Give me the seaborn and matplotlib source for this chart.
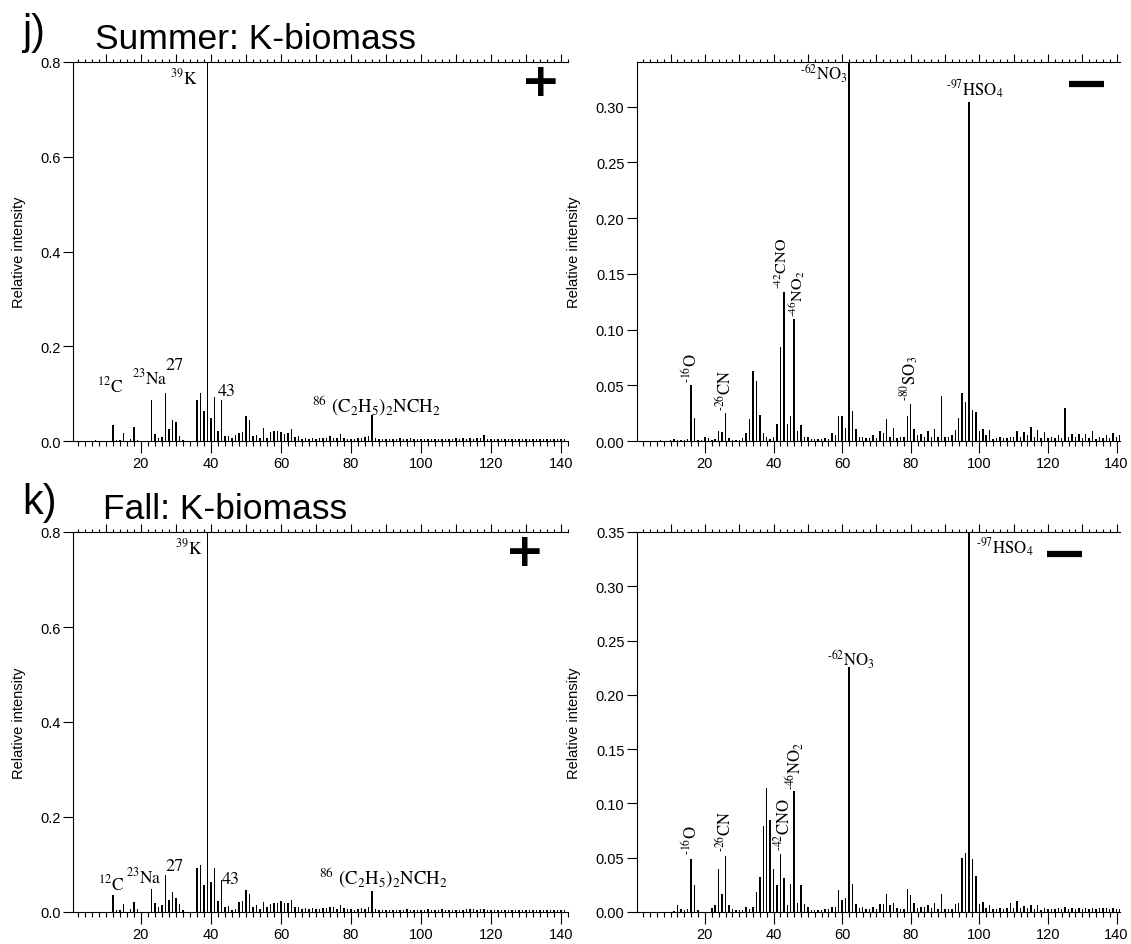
import matplotlib
matplotlib.use("Agg")
import matplotlib.pyplot as plt
import seaborn as sns
import pandas as pd
from matplotlib.ticker import MultipleLocator, FixedLocator, FormatStrFormatter, NullFormatter

# ---------------- data (m/z 1..141) ----------------
MZ = list(range(1, 142))

POS_SUMMER = [
    0, 0, 0, 0, 0, 0, 0.002, 0, 0, 0,
    0, 0.034, 0.003, 0.003, 0.017, 0.001, 0.005, 0.029, 0.003, 0,
    0, 0, 0.086, 0.014, 0.006, 0.009, 0.102, 0.025, 0.045, 0.040,
    0.010, 0.002, 0, 0, 0, 0.086, 0.102, 0.063, 0.85, 0.048,
    0.093, 0.022, 0.086, 0.010, 0.010, 0.006, 0.013, 0.017, 0.018, 0.052,
    0.045, 0.011, 0.012, 0.006, 0.027, 0.007, 0.020, 0.022, 0.022, 0.020,
    0.015, 0.017, 0.025, 0.008, 0.011, 0.005, 0.007, 0.004, 0.007, 0.004,
    0.007, 0.006, 0.007, 0.011, 0.006, 0.007, 0.014, 0.006, 0.005, 0.005,
    0.004, 0.006, 0.006, 0.008, 0.010, 0.055, 0.007, 0.005, 0.004, 0.005,
    0.004, 0.005, 0.004, 0.006, 0.004, 0.005, 0.006, 0.005, 0.004, 0.005,
    0.004, 0.005, 0.004, 0.005, 0.004, 0.005, 0.004, 0.005, 0.004, 0.006,
    0.005, 0.007, 0.005, 0.006, 0.005, 0.007, 0.006, 0.012, 0.005, 0.004,
    0.005, 0.004, 0.005, 0.004, 0.004, 0.005, 0.004, 0.004, 0.005, 0.004,
    0.004, 0.004, 0.005, 0.004, 0.004, 0.004, 0.004, 0.005, 0.004, 0.005,
    0.004,
]

NEG_SUMMER = [
    0, 0, 0, 0, 0, 0, 0.001, 0, 0, 0.001,
    0.002, 0.001, 0.001, 0.001, 0.002, 0.050, 0.021, 0.001, 0.001, 0.004,
    0.003, 0.001, 0.002, 0.009, 0.008, 0.025, 0.003, 0.001, 0.001, 0.001,
    0.003, 0.007, 0.020, 0.063, 0.054, 0.023, 0.007, 0.004, 0.002, 0.004,
    0.015, 0.084, 0.134, 0.015, 0.022, 0.109, 0.009, 0.014, 0.004, 0.004,
    0.0015, 0.0015, 0.002, 0.0015, 0.003, 0.002, 0.007, 0.005, 0.022, 0.022,
    0.012, 0.36, 0.027, 0.011, 0.004, 0.004, 0.003, 0.003, 0.005, 0.003,
    0.009, 0.007, 0.020, 0.004, 0.012, 0.003, 0.004, 0.004, 0.022, 0.033,
    0.011, 0.005, 0.006, 0.004, 0.009, 0.004, 0.011, 0.004, 0.040, 0.004,
    0.004, 0.005, 0.010, 0.021, 0.043, 0.035, 0.304, 0.028, 0.026, 0.009,
    0.011, 0.005, 0.010, 0.002, 0.003, 0.004, 0.003, 0.003, 0.004, 0.004,
    0.009, 0.004, 0.008, 0.005, 0.013, 0.004, 0.010, 0.003, 0.008, 0.003,
    0.004, 0.003, 0.005, 0.003, 0.030, 0.004, 0.006, 0.004, 0.006, 0.003,
    0.006, 0.003, 0.009, 0.002, 0.004, 0.003, 0.005, 0.003, 0.007, 0.004,
    0.005,
]

POS_FALL = [
    0, 0, 0, 0, 0, 0, 0.001, 0, 0, 0,
    0, 0.036, 0.005, 0.0035, 0.017, 0.001, 0.0055, 0.022, 0.0055, 0,
    0, 0, 0.048, 0.019, 0.011, 0.015, 0.077, 0.025, 0.042, 0.029,
    0.017, 0.004, 0, 0, 0, 0.093, 0.100, 0.057, 0.85, 0.063,
    0.093, 0.023, 0.067, 0.011, 0.013, 0.004, 0.006, 0.022, 0.023, 0.046,
    0.037, 0.011, 0.015, 0.006, 0.022, 0.011, 0.016, 0.020, 0.020, 0.023,
    0.018, 0.020, 0.026, 0.010, 0.011, 0.006, 0.008, 0.006, 0.008, 0.006,
    0.007, 0.008, 0.008, 0.011, 0.010, 0.006, 0.014, 0.009, 0.006, 0.0055,
    0.005, 0.006, 0.008, 0.007, 0.010, 0.044, 0.006, 0.005, 0.005, 0.004,
    0.005, 0.004, 0.005, 0.004, 0.005, 0.006, 0.005, 0.004, 0.005, 0.004,
    0.005, 0.006, 0.005, 0.004, 0.005, 0.006, 0.005, 0.004, 0.005, 0.004,
    0.005, 0.004, 0.006, 0.007, 0.006, 0.005, 0.007, 0.006, 0.005, 0.004,
    0.005, 0.004, 0.004, 0.005, 0.004, 0.004, 0.005, 0.004, 0.004, 0.005,
    0.004, 0.004, 0.004, 0.005, 0.004, 0.004, 0.005, 0.004, 0.004, 0.005,
    0.004,
]

NEG_FALL = [
    0, 0, 0, 0, 0, 0, 0, 0, 0, 0,
    0.001, 0.0065, 0.003, 0.0015, 0.003, 0.049, 0.025, 0.002, 0, 0,
    0, 0.004, 0.006, 0.040, 0.017, 0.052, 0.006, 0.0025, 0.002, 0.0015,
    0.002, 0.005, 0.003, 0.005, 0.018, 0.032, 0.079, 0.114, 0.085, 0.040,
    0.025, 0.053, 0.031, 0.006, 0.026, 0.111, 0.008, 0.025, 0.007, 0.005,
    0.002, 0.002, 0.0015, 0.002, 0.003, 0.0025, 0.005, 0.005, 0.020, 0.011,
    0.013, 0.226, 0.026, 0.007, 0.004, 0.005, 0.003, 0.0025, 0.005, 0.003,
    0.0075, 0.007, 0.017, 0.006, 0.008, 0.0035, 0.003, 0.003, 0.021, 0.016,
    0.008, 0.004, 0.005, 0.005, 0.0065, 0.0035, 0.008, 0.003, 0.017, 0.003,
    0.003, 0.003, 0.0075, 0.008, 0.050, 0.054, 0.37, 0.049, 0.033, 0.0075,
    0.009, 0.004, 0.006, 0.003, 0.0025, 0.0035, 0.003, 0.0035, 0.008, 0.0035,
    0.010, 0.004, 0.0055, 0.0035, 0.0065, 0.003, 0.006, 0.002, 0.004, 0.003,
    0.003, 0.003, 0.0035, 0.003, 0.005, 0.003, 0.004, 0.003, 0.004, 0.003,
    0.0035, 0.003, 0.004, 0.003, 0.004, 0.004, 0.004, 0.003, 0.0035, 0.0025,
    0.003,
]

X_TICKS = [20, 40, 60, 80, 100, 120, 140]
Y_TICKS_POS = [0.0, 0.2, 0.4, 0.6, 0.8]
Y_TICKS_NEG_SUMMER = [0.00, 0.05, 0.10, 0.15, 0.20, 0.25, 0.30]
Y_TICKS_NEG_FALL = [0.00, 0.05, 0.10, 0.15, 0.20, 0.25, 0.30, 0.35]

PANEL_TITLES = [("j)", "Summer: K-biomass"), ("k)", "Fall: K-biomass")]

HY = "\u2010"  # short hyphen used in the negative-ion labels

# peak labels: (text, x, y, ha, va, rotation, size)
LAB_POS_SUMMER = [
    (r"$^{39}$K", 36.3, 0.768, "right", "center", 0, 12.5),
    (r"$^{12}$C", 11.2, 0.118, "center", "center", 0, 12.5),
    (r"$^{23}$Na", 22.6, 0.134, "center", "center", 0, 12.5),
    ("27", 29.5, 0.160, "center", "center", 0, 13),
    ("43", 44.6, 0.105, "center", "center", 0, 13),
    (r"$^{86}$ (C$_2$H$_5$)$_2$NCH$_2$", 68.9, 0.076, "left", "center", 0, 13.5),
]
LAB_POS_FALL = [
    (r"$^{39}$K", 37.7, 0.768, "right", "center", 0, 12.5),
    (r"$^{12}$C", 11.4, 0.061, "center", "center", 0, 12.5),
    (r"$^{23}$Na", 20.9, 0.076, "center", "center", 0, 12.5),
    ("27", 29.6, 0.097, "center", "center", 0, 13),
    ("43", 45.6, 0.069, "center", "center", 0, 13),
    (r"$^{86}$ (C$_2$H$_5$)$_2$NCH$_2$", 70.9, 0.074, "left", "center", 0, 13.5),
]
LAB_NEG_SUMMER = [
    (r"$^{" + HY + r"62}$NO$_3$", 61.7, 0.330, "right", "center", 0, 12),
    (r"$^{" + HY + r"97}$HSO$_4$", 90.3, 0.316, "left", "center", 0, 12),
    (r"$^{" + HY + r"16}$O", 15.8, 0.053, "center", "bottom", 90, 12),
    (r"$^{" + HY + r"26}$CN", 25.9, 0.028, "center", "bottom", 90, 12),
    (r"$^{" + HY + r"42}$CNO", 42.4, 0.137, "center", "bottom", 90, 11.5),
    (r"$^{" + HY + r"46}$NO$_2$", 46.9, 0.112, "center", "bottom", 90, 11.5),
    (r"$^{" + HY + r"80}$SO$_3$", 79.8, 0.037, "center", "bottom", 90, 12),
]
LAB_NEG_FALL = [
    (r"$^{" + HY + r"97}$HSO$_4$", 99.0, 0.336, "left", "center", 0, 12),
    (r"$^{" + HY + r"62}$NO$_3$", 62.5, 0.233, "center", "center", 0, 12),
    (r"$^{" + HY + r"16}$O", 15.8, 0.053, "center", "bottom", 90, 12),
    (r"$^{" + HY + r"26}$CN", 25.9, 0.056, "center", "bottom", 90, 12),
    (r"$^{" + HY + r"42}$CNO", 42.9, 0.057, "center", "bottom", 90, 12),
    (r"$^{" + HY + r"46}$NO$_2$", 46.2, 0.113, "center", "bottom", 90, 12),
]

# ---------------- style ----------------
sns.set_style("ticks")
plt.rcParams["font.family"] = ["Liberation Sans", "DejaVu Sans"]
plt.rcParams["mathtext.fontset"] = "stix"
for k in ["text.color", "axes.edgecolor", "axes.labelcolor", "xtick.color", "ytick.color"]:
    plt.rcParams[k] = "black"
plt.rcParams["axes.linewidth"] = 0.8

W, H = 1131, 945
fig = plt.figure(figsize=(W / 100, H / 100), dpi=100)


def add_ax(left, top, right, bottom):
    return fig.add_axes([left / W, 1 - bottom / H, (right - left) / W, (bottom - top) / H])


def draw_panel(ax, values, xlim, ylim, yticks, yfmt, labels, ylabel_x, sign, sign_x):
    df = pd.DataFrame({"mz": MZ, "intensity": values})
    sns.barplot(data=df, x="mz", y="intensity", native_scale=True, width=0.42,
                color="black", saturation=1, linewidth=0, errorbar=None, ax=ax)
    ax.set_xlim(*xlim)
    ax.set_ylim(*ylim)
    for s in ["top", "right"]:
        ax.spines[s].set_visible(False)
    ax.spines["left"].set_linewidth(0.8)
    ax.spines["bottom"].set_linewidth(0.8)

    ax.xaxis.set_major_locator(FixedLocator(X_TICKS))
    ax.xaxis.set_minor_locator(MultipleLocator(2))
    ax.yaxis.set_major_locator(FixedLocator(yticks))
    ax.yaxis.set_major_formatter(FormatStrFormatter(yfmt))
    ax.tick_params(axis="x", which="major", length=8.5, width=0.8, pad=2, labelsize=10.5)
    ax.tick_params(axis="x", which="minor", length=3.6, width=0.8)
    ax.tick_params(axis="y", which="major", length=7, width=0.8, pad=2, labelsize=10.5)
    ax.set_xlabel("")
    ax.set_ylabel("Relative intensity", fontsize=10.5)
    ax.yaxis.set_label_coords(ylabel_x, 0.5)

    sec = ax.secondary_xaxis("top")
    sec.xaxis.set_major_locator(MultipleLocator(10))
    sec.xaxis.set_minor_locator(MultipleLocator(2))
    sec.xaxis.set_major_formatter(NullFormatter())
    sec.tick_params(which="major", length=5.5, width=0.8)
    sec.tick_params(which="minor", length=2.3, width=0.8)
    sec.spines["top"].set_linewidth(0.8)

    for txt, x, y, ha, va, rot, size in labels:
        ax.text(x, y, txt, ha=ha, va=va, rotation=rot, fontsize=size,
                family="STIXGeneral", clip_on=False)

    if sign == "+":
        ax.text(sign_x, 0.947, "+", transform=ax.transAxes, ha="center", va="center",
                fontsize=34, fontweight="bold", family="DejaVu Sans")
    else:
        ax.plot([sign_x - 0.0365, sign_x + 0.0365], [0.943, 0.943], transform=ax.transAxes,
                color="black", lw=4.5, solid_capstyle="butt", clip_on=False)


ax_tl = add_ax(73, 63, 568, 442)
ax_tr = add_ax(637, 63, 1120, 442)
ax_bl = add_ax(73, 533, 568, 913)
ax_br = add_ax(637, 533, 1120, 913)

draw_panel(ax_tl, POS_SUMMER, (0.6, 142), (0, 0.8), Y_TICKS_POS, "%.1f",
           LAB_POS_SUMMER, -0.095, "+", 0.945)
draw_panel(ax_tr, NEG_SUMMER, (0.2, 141.0), (0, 0.34), Y_TICKS_NEG_SUMMER, "%.2f",
           LAB_NEG_SUMMER, -0.116, "-", 0.93)
draw_panel(ax_bl, POS_FALL, (0.6, 142), (0, 0.8), Y_TICKS_POS, "%.1f",
           LAB_POS_FALL, -0.095, "+", 0.913)
draw_panel(ax_br, NEG_FALL, (0.2, 141.0), (0, 0.35), Y_TICKS_NEG_FALL, "%.2f",
           LAB_NEG_FALL, -0.116, "-", 0.885)

# panel titles
for (tag, title), base_y, tx in zip(PANEL_TITLES, [44, 514], [95, 103]):
    fig.text(22 / W, 1 - base_y / H, tag, fontsize=30, ha="left", va="baseline")
    fig.text(tx / W, 1 - (base_y + 5) / H, title, fontsize=25.5, ha="left", va="baseline")

fig.savefig("out.png", dpi=100)
